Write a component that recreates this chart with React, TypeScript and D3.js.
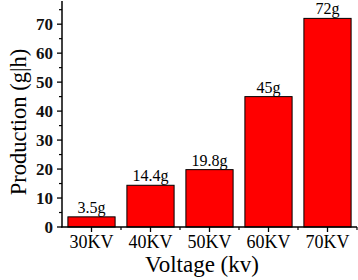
import React from "react";
import * as d3 from "d3";

const categories = ["30KV", "40KV", "50KV", "60KV", "70KV"];
const values = [3.5, 14.4, 19.8, 45, 72];
const valueLabels = ["3.5g", "14.4g", "19.8g", "45g", "72g"];
const yTicks = [0, 10, 20, 30, 40, 50, 60, 70];
const yMinorTicks = [5, 15, 25, 35, 45, 55, 65, 75];

const W = 358;
const H = 280;
const SERIF = "Liberation Serif";

export default function App() {
  const x = d3.scaleBand<string>().domain(categories).range([62, 357]).paddingInner(0.2).paddingOuter(0.1);
  const y = d3.scaleLinear().domain([0, 78]).range([227, 1]);
  const x0 = 62;
  const y0 = y(0);
  const step = x.step();
  const boundaries = d3.range(categories.length + 1).map((i) => 62 + i * step);

  return (
    <svg
      width={W}
      height={H}
      fontFamily={SERIF}
      style={{ position: "absolute", left: 0, top: 0, background: "#fff", fontFamily: `"${SERIF}"` }}
    >
      {categories.map((c, i) => (
        <rect
          key={c}
          x={x(c)}
          y={y(values[i])}
          width={x.bandwidth()}
          height={y0 - y(values[i])}
          fill="#ff0000"
          stroke="#000"
          strokeWidth={1}
        />
      ))}
      {categories.map((c, i) => (
        <text
          key={"v" + c}
          x={(x(c) as number) + x.bandwidth() / 2}
          y={y(values[i]) - 4}
          textAnchor="middle"
          fontSize={16}
          fill="#000"
        >
          {valueLabels[i]}
        </text>
      ))}
      <line x1={x0} x2={x0} y1={y0 + 0.5} y2={1} stroke="#000" strokeWidth={1.5} />
      {yTicks.map((t) => (
        <g key={"yt" + t}>
          <line x1={x0 - 5} x2={x0} y1={y(t)} y2={y(t)} stroke="#000" strokeWidth={1.3} />
          <text x={x0 - 9} y={y(t)} dy="0.35em" textAnchor="end" fontSize={17} fontWeight="bold" fill="#111">
            {t}
          </text>
        </g>
      ))}
      {yMinorTicks.map((t) => (
        <line key={"ym" + t} x1={x0 - 3} x2={x0} y1={y(t)} y2={y(t)} stroke="#000" strokeWidth={1.2} />
      ))}
      <line x1={x0 - 0.75} x2={357} y1={y0} y2={y0} stroke="#000" strokeWidth={1.5} />
      {categories.map((c) => {
        const cx = (x(c) as number) + x.bandwidth() / 2;
        return (
          <g key={"xt" + c}>
            <line x1={cx} x2={cx} y1={y0} y2={y0 + 5} stroke="#000" strokeWidth={1.3} />
            <text x={cx} y={248} textAnchor="middle" fontSize={18} fill="#000">
              {c}
            </text>
          </g>
        );
      })}
      {boundaries.slice(1).map((b, i) => (
        <line key={"xm" + i} x1={b} x2={b} y1={y0} y2={y0 + 3} stroke="#000" strokeWidth={1.2} />
      ))}
      <text x={202} y={272} textAnchor="middle" fontSize={23} fill="#000">
        Voltage (kv)
      </text>
      <text transform={`translate(26,122) rotate(-90)`} textAnchor="middle" fontSize={22.5} fill="#000">
        Production (g|h)
      </text>
    </svg>
  );
}
